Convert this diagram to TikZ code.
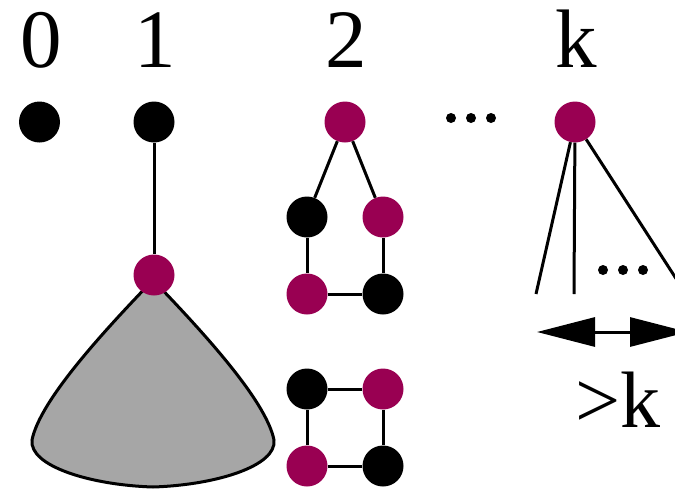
\documentclass[tikz,border=0pt]{standalone}
\usepackage{fontspec}
\setmainfont{Liberation Serif}
\usetikzlibrary{arrows.meta}
\definecolor{wine}{RGB}{153,0,82}
\definecolor{blobgray}{RGB}{166,166,166}
\begin{document}
\begin{tikzpicture}[x=1pt,y=-1pt,
  vb/.style={circle,fill=black,minimum size=41pt,inner sep=0pt},
  vp/.style={circle,fill=wine,minimum size=41pt,inner sep=0pt},
  edge/.style={line width=3pt},
  lab/.style={font=\fontsize{83}{90}\selectfont,anchor=base,inner sep=0pt},
  dotn/.style={circle,fill=black,minimum size=10pt,inner sep=0pt}]
\useasboundingbox (0,0) rectangle (675,488);
% labels
\node[lab] (l0) at (41,67) {0};
\node[lab] (l1) at (155,67) {1};
\node[lab] (l2) at (346,67) {2};
\node[lab] (lk) at (576,67) {k};
% blob
\draw[line width=3pt, fill=blobgray] (153,280) .. controls (105,330) and (40,400) .. (32,440)
  .. controls (29,466) and (90,485) .. (153,487)
  .. controls (216,485) and (277,466) .. (274,440)
  .. controls (266,400) and (201,330) .. (153,280) -- cycle;
% tree 0
\node[vb] (a0) at (39.5,122) {};
% tree 1
\node[vb] (b1) at (154,122) {};
\node[vp] (b2) at (154,275) {};
\draw[edge] (b1) -- (b2);
% tree 2
\node[vp] (c1) at (345,122) {};
\node[vb] (c2) at (307,217) {};
\node[vp] (c3) at (383,217) {};
\node[vp] (c4) at (307,294) {};
\node[vb] (c5) at (383,294) {};
\draw[edge] (c1) -- (c2);
\draw[edge] (c1) -- (c3);
\draw[edge] (c2) -- (c4);
\draw[edge] (c3) -- (c5);
\draw[edge] (c4) -- (c5);
% square
\node[vb] (s1) at (307,389) {};
\node[vp] (s2) at (383,389) {};
\node[vp] (s3) at (307,466) {};
\node[vb] (s4) at (383,466) {};
\draw[edge] (s1) -- (s2);
\draw[edge] (s1) -- (s3);
\draw[edge] (s2) -- (s4);
\draw[edge] (s3) -- (s4);
% dots
\node[dotn] (d1) at (451,118) {};
\node[dotn] (d2) at (471,118) {};
\node[dotn] (d3) at (491,118) {};
% tree k
\node[vp] (k) at (575,122) {};
\coordinate (k1) at (536,294);
\coordinate (k2) at (574,294);
\coordinate (k3) at (686,294);
\draw[edge] (k) -- (k1);
\draw[edge] (k) -- (k2);
\draw[edge] (k) -- (k3);
\node[dotn] (e1) at (603,270) {};
\node[dotn] (e2) at (623,270) {};
\node[dotn] (e3) at (643,270) {};
% arrow
\coordinate (al) at (537,332);
\coordinate (ar) at (688,332);
\draw[line width=3pt,{Triangle[length=58pt,width=29pt]}-{Triangle[length=58pt,width=29pt]}] (al) -- (ar);
\node[lab,font=\fontsize{80}{90}\selectfont] (gk) at (618,427) {>k};
\end{tikzpicture}
\end{document}
